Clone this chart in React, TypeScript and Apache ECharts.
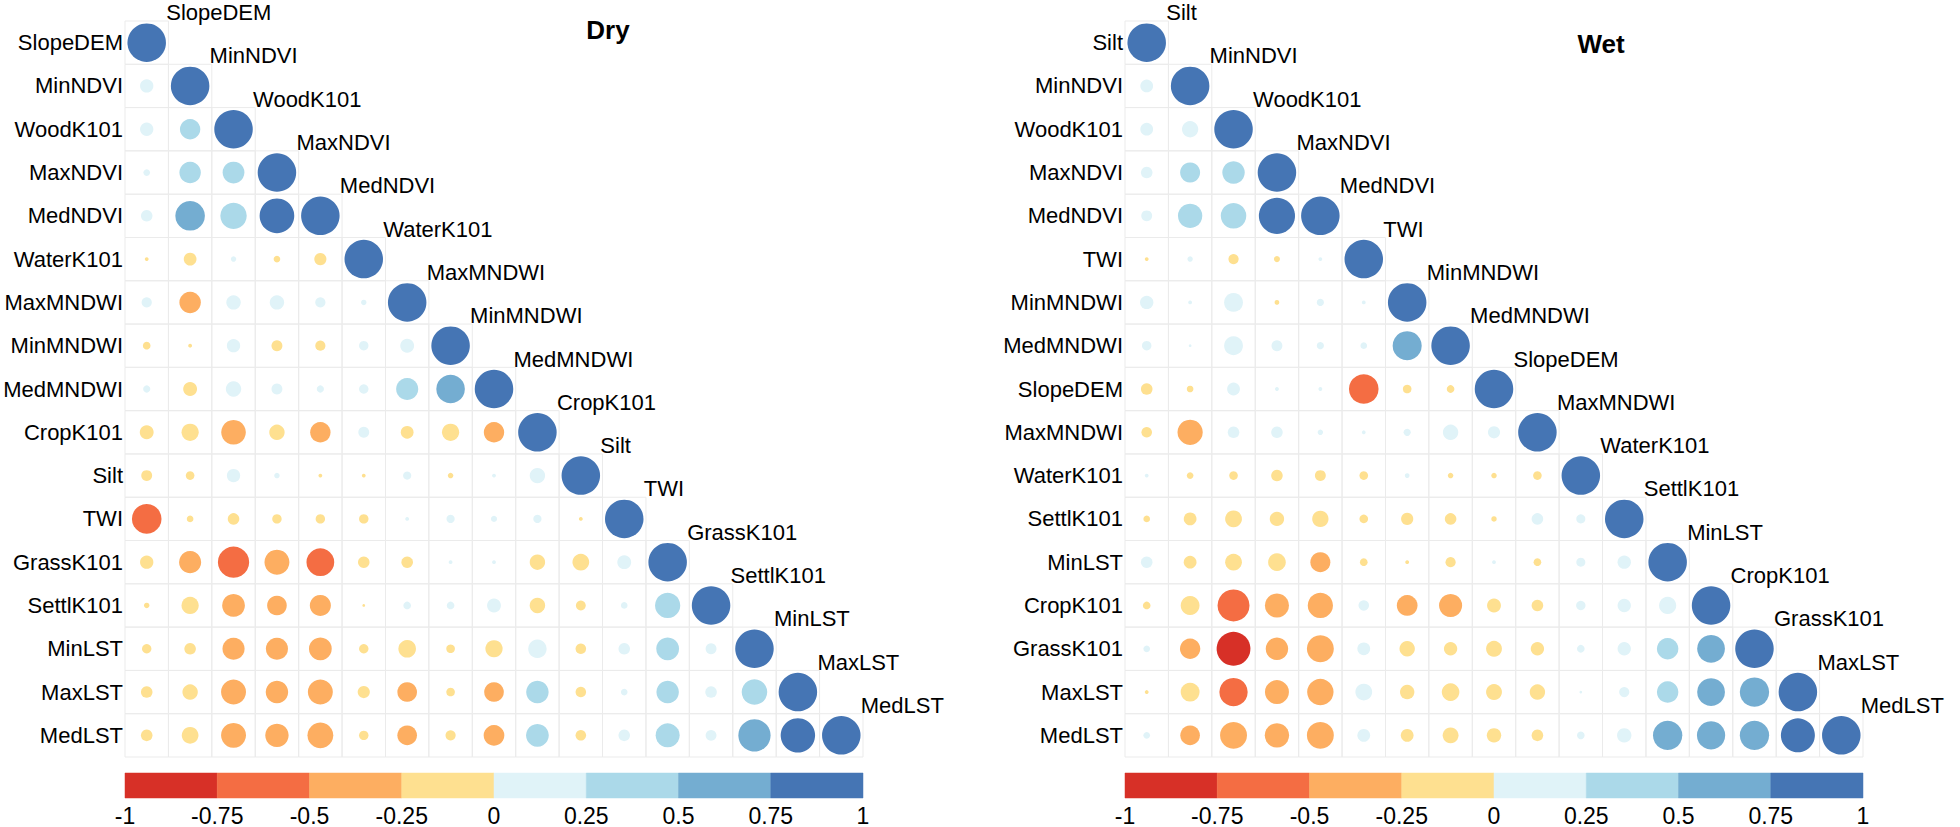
import React, { useEffect, useRef } from "react";
import * as echarts from "echarts";

const FONT = "'Liberation Sans', Arial, Helvetica, sans-serif";

const dryVars = ["SlopeDEM", "MinNDVI", "WoodK101", "MaxNDVI", "MedNDVI", "WaterK101", "MaxMNDWI", "MinMNDWI", "MedMNDWI", "CropK101", "Silt", "TWI", "GrassK101", "SettlK101", "MinLST", "MaxLST", "MedLST"];

// lower-triangle correlations (row i, columns 0..i-1); diagonal = 1
const dryLower = [
  [],
  [0.12],
  [0.12, 0.28],
  [0.03, 0.31, 0.32],
  [0.09, 0.59, 0.47, 0.81, 0.94],
  [-0.01, -0.11, 0.02, -0.03, -0.1],
  [0.07, -0.31, 0.14, 0.14, 0.07, 0.02],
  [-0.04, -0.01, 0.12, -0.08, -0.07, 0.06, 0.13],
  [0.035, -0.13, 0.16, 0.08, 0.035, 0.06, 0.33, 0.55],
  [-0.13, -0.2, -0.41, -0.16, -0.28, 0.08, -0.11, -0.2, -0.28],
  [-0.08, -0.05, 0.12, 0.02, -0.01, -0.01, 0.045, -0.02, 0.01, 0.16],
  [-0.59, -0.03, -0.09, -0.06, -0.06, -0.06, 0.01, 0.045, 0.025, 0.045, -0.01],
  [-0.12, -0.33, -0.66, -0.42, -0.52, -0.09, -0.09, 0.01, 0.01, -0.16, -0.19, 0.13],
  [-0.02, -0.2, -0.35, -0.26, -0.3, -0.005, 0.04, 0.04, 0.13, -0.16, -0.065, 0.03, 0.43],
  [-0.06, -0.09, -0.33, -0.33, -0.35, -0.06, -0.21, -0.05, -0.2, 0.23, -0.075, 0.09, 0.35, 0.08],
  [-0.09, -0.16, -0.42, -0.34, -0.42, -0.1, -0.26, -0.05, -0.26, 0.34, -0.075, 0.03, 0.34, 0.09, 0.44],
  [-0.09, -0.19, -0.42, -0.37, -0.45, -0.06, -0.26, -0.07, -0.29, 0.35, -0.075, 0.09, 0.39, 0.08, 0.7, 0.8],
];

const wetVars = ["Silt", "MinNDVI", "WoodK101", "MaxNDVI", "MedNDVI", "TWI", "MinMNDWI", "MedMNDWI", "SlopeDEM", "MaxMNDWI", "WaterK101", "SettlK101", "MinLST", "CropK101", "GrassK101", "MaxLST", "MedLST"];

const wetLower = [
  [],
  [0.11],
  [0.11, 0.18],
  [0.09, 0.27, 0.34],
  [0.08, 0.4, 0.44, 0.88, 0.96],
  [-0.01, 0.02, -0.07, -0.025, 0.01],
  [0.12, 0.01, 0.24, -0.015, 0.035, 0.01],
  [0.06, 0.005, 0.24, 0.08, 0.035, 0.03, 0.57],
  [-0.09, -0.03, 0.11, 0.01, 0.01, -0.59, -0.05, -0.04],
  [-0.075, -0.43, 0.09, 0.09, 0.02, 0.01, 0.035, 0.16, 0.1],
  [0.01, -0.03, -0.05, -0.09, -0.08, -0.05, 0.015, -0.02, -0.02, -0.05],
  [-0.03, -0.11, -0.19, -0.14, -0.18, -0.05, -0.1, -0.09, -0.02, 0.09, 0.055],
  [0.09, -0.11, -0.19, -0.21, -0.27, -0.04, -0.01, -0.07, 0.01, -0.04, 0.055, 0.12],
  [-0.04, -0.24, -0.69, -0.39, -0.43, 0.075, -0.29, -0.36, -0.13, -0.09, 0.06, 0.12, 0.2],
  [0.03, -0.28, -0.77, -0.34, -0.49, 0.11, -0.16, -0.12, -0.17, -0.12, 0.04, 0.12, 0.31, 0.52],
  [-0.01, -0.24, -0.54, -0.39, -0.47, 0.19, -0.14, -0.21, -0.17, -0.16, 0.005, 0.07, 0.31, 0.52, 0.58],
  [0.03, -0.26, -0.49, -0.4, -0.49, 0.11, -0.11, -0.17, -0.14, -0.09, 0.04, 0.14, 0.58, 0.54, 0.58, 0.78],
];

const binLow = [-1, -0.75, -0.5, -0.25, 0, 0.25, 0.5, 0.75];
const binHigh = [-0.75, -0.5, -0.25, 0, 0.25, 0.5, 0.75, 1];
const palette = ["#D73027", "#F46D43", "#FDAE61", "#FEE090", "#E0F3F8", "#ABD9E9", "#74ADD1", "#4575B4"];

const titles = ["Dry", "Wet"];

function buildCells(lower: number[][]) {
  const out: number[][] = [];
  for (let i = 0; i < lower.length; i++) {
    for (let j = 0; j < i; j++) out.push([j, i, lower[i][j]]);
    out.push([i, i, 1]);
  }
  return out;
}

const BASE = 38.5;

export default function App() {
  const ref = useRef<HTMLDivElement>(null);
  useEffect(() => {
    if (!ref.current) return;
    const chart = echarts.init(ref.current, null, { renderer: "svg" });

    const panels = [
      { vars: dryVars, lower: dryLower, left: 125 },
      { vars: wetVars, lower: wetLower, left: 1125 },
    ];
    const GW = 738;
    const GH = 736;
    const GTOP = 21;

    const grids: any[] = [];
    const xAxes: any[] = [];
    const yAxes: any[] = [];
    const series: any[] = [];

    panels.forEach((p, k) => {
      grids.push({ left: p.left, top: GTOP, width: GW, height: GH });
      xAxes.push({
        type: "category", gridIndex: k, data: p.vars, show: false,
      });
      yAxes.push({
        type: "category", gridIndex: k, data: p.vars, inverse: true,
        axisLine: { show: false }, axisTick: { show: false }, splitLine: { show: false },
        axisLabel: { fontSize: 22, color: "#000", margin: 2, fontFamily: FONT },
      });
    });
    panels.forEach((p, k) => {
      grids.push({ left: p.left, top: 773, width: GW, height: 27 });
      xAxes.push({
        type: "value", gridIndex: 2 + k, min: -1, max: 1, interval: 0.25,
        axisLine: { show: false }, axisTick: { show: false }, splitLine: { show: false },
        axisLabel: { fontSize: 23, color: "#000", margin: 6, fontFamily: FONT, showMinLabel: true, showMaxLabel: true },
      });
      yAxes.push({ type: "value", gridIndex: 2 + k, min: 0, max: 1, show: false });
    });

    const circleIdx: number[] = [];
    panels.forEach((p, k) => {
      const cells = buildCells(p.lower);
      series.push({
        type: "custom", xAxisIndex: k, yAxisIndex: k, z: 1, silent: true,
        data: cells,
        renderItem: (params: any, api: any) => {
          const c = api.coord([api.value(0), api.value(1)]);
          const s = api.size([1, 1]);
          return {
            type: "rect",
            shape: { x: c[0] - s[0] / 2, y: c[1] - s[1] / 2, width: s[0], height: s[1] },
            style: { fill: "none", stroke: "#EBEBEB", lineWidth: 1 },
          };
        },
      });
      circleIdx.push(series.length);
      series.push({
        type: "scatter", xAxisIndex: k, yAxisIndex: k, z: 2, silent: true,
        data: cells,
        symbol: "circle",
        itemStyle: { opacity: 1 },
        symbolSize: (v: number[]) => BASE * Math.sqrt(Math.abs(v[2])),
      });
      series.push({
        type: "scatter", xAxisIndex: k, yAxisIndex: k, z: 3, silent: true,
        data: p.vars.map((_, i) => [i, i]),
        symbol: "circle", symbolSize: 1,
        itemStyle: { color: "rgba(0,0,0,0)", opacity: 1 },
        label: {
          show: true,
          formatter: (q: any) => p.vars[q.dataIndex],
          position: [20, -29.5],
          align: "left",
          verticalAlign: "middle",
          fontSize: 22,
          color: "#000",
          opacity: 1,
          fontFamily: FONT,
        },
      });
    });
    panels.forEach((p, k) => {
      series.push({
        type: "custom", xAxisIndex: 2 + k, yAxisIndex: 2 + k, silent: true,
        data: binLow.map((lo, i) => [lo, binHigh[i], i]),
        renderItem: (params: any, api: any) => {
          const a = api.coord([api.value(0), 0]);
          const b = api.coord([api.value(1), 1]);
          return {
            type: "rect",
            shape: { x: a[0], y: b[1], width: b[0] - a[0], height: a[1] - b[1] },
            style: { fill: palette[api.value(2)], stroke: palette[api.value(2)], lineWidth: 0.5 },
          };
        },
      });
    });

    chart.setOption({
      animation: false,
      backgroundColor: "#ffffff",
      title: [
        { text: titles[0], left: 608, top: 17, textAlign: "center", padding: 0, textStyle: { fontSize: 26, fontWeight: "bold", color: "#000", fontFamily: FONT } },
        { text: titles[1], left: 1601, top: 31, textAlign: "center", padding: 0, textStyle: { fontSize: 26, fontWeight: "bold", color: "#000", fontFamily: FONT } },
      ],
      visualMap: {
        type: "piecewise", show: false, dimension: 2, seriesIndex: circleIdx,
        pieces: binLow.map((lo, i) =>
          i === binLow.length - 1
            ? { gte: lo, lte: binHigh[i], color: palette[i] }
            : { gte: lo, lt: binHigh[i], color: palette[i] }
        ),
      },
      grid: grids,
      xAxis: xAxes,
      yAxis: yAxes,
      series,
    });
    return () => chart.dispose();
  }, []);
  return <div ref={ref} style={{ position: "absolute", left: 0, top: 0, width: 1960, height: 827 }} />;
}
